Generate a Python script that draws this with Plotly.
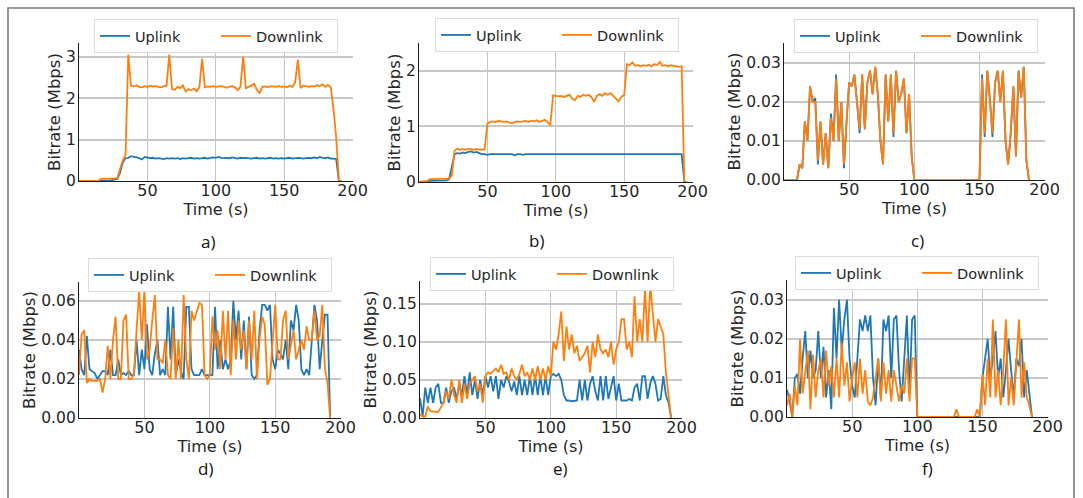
import plotly.graph_objects as go

# ---------------- data (time in s, bitrate in Mbps) ----------------
T_a = list(range(0, 193, 2))
up_a = [0,0,0,0,0,0,0,0,0.01,0.01,
        0.01,0.01,0.02,0.03,0.05,0.2,0.45,0.55,0.56,0.6,
        0.59,0.57,0.55,0.52,0.58,0.57,0.55,0.56,0.54,0.55,
        0.54,0.53,0.55,0.54,0.55,0.54,0.55,0.53,0.55,0.54,
        0.55,0.56,0.54,0.55,0.54,0.55,0.56,0.54,0.55,0.57,
        0.56,0.58,0.56,0.55,0.56,0.55,0.57,0.55,0.54,0.56,
        0.55,0.56,0.55,0.54,0.55,0.56,0.54,0.55,0.54,0.55,
        0.56,0.54,0.55,0.54,0.55,0.54,0.55,0.56,0.54,0.55,
        0.56,0.55,0.54,0.55,0.56,0.55,0.57,0.55,0.58,0.56,
        0.55,0.57,0.54,0.54,0.53,0,0]
down_a = [0,0,0,0,0,0,0,0,0.05,0.05,
          0.05,0.05,0.05,0.06,0.07,0.3,0.5,0.62,3.05,2.3,
          2.28,2.31,2.27,2.26,2.29,2.27,2.3,2.28,2.29,2.27,
          2.26,2.29,2.3,3.05,2.22,2.2,2.27,2.24,2.31,2.16,
          2.22,2.19,2.23,2.17,2.26,2.95,2.26,2.28,2.27,2.29,
          2.27,2.28,2.29,2.27,2.25,2.28,2.29,2.26,2.19,2.27,
          3.0,2.24,2.27,2.3,2.35,2.2,2.12,2.27,2.28,2.26,
          2.29,2.28,2.27,2.29,2.27,2.28,2.26,2.3,2.27,2.38,
          2.93,2.24,2.3,2.29,2.27,2.29,2.28,2.31,2.29,2.33,
          2.27,2.32,2.27,1.75,1.05,0,0]

T_b = list(range(0, 197, 2))
up_b = [0,0,0,0.01,0.02,0.02,0.02,0.02,0.02,0.02,
        0.03,0.05,0.3,0.5,0.52,0.51,0.53,0.52,0.54,0.55,
        0.53,0.54,0.52,0.5,0.5,0.49,0.5,0.5,0.49,0.5,
        0.5,0.5,0.49,0.5,0.5,0.48,0.5,0.5,0.49,0.5,
        0.5,0.5,0.49,0.5,0.5,0.5,0.49,0.5,0.5,0.5,
        0.5,0.49,0.5,0.5,0.5,0.49,0.5,0.5,0.5,0.49,
        0.5,0.5,0.5,0.49,0.5,0.5,0.5,0.49,0.5,0.5,
        0.5,0.49,0.5,0.5,0.5,0.49,0.5,0.5,0.49,0.5,
        0.5,0.5,0.49,0.5,0.5,0.5,0.49,0.5,0.5,0.5,
        0.49,0.5,0.5,0.5,0.49,0.5,0.5,0,0]
down_b = [0,0,0.01,0.02,0.05,0.05,0.05,0.05,0.05,0.05,
          0.05,0.06,0.12,0.56,0.6,0.58,0.59,0.58,0.6,0.59,
          0.58,0.59,0.58,0.58,0.59,1.05,1.08,1.09,1.08,1.1,
          1.09,1.08,1.09,1.07,1.05,1.08,1.09,1.08,1.09,1.1,
          1.08,1.1,1.09,1.11,1.08,1.1,1.12,1.08,1.02,1.56,
          1.55,1.54,1.55,1.53,1.55,1.57,1.5,1.47,1.55,1.53,
          1.57,1.55,1.57,1.53,1.44,1.55,1.58,1.55,1.6,1.57,
          1.6,1.55,1.5,1.45,1.54,1.56,2.12,2.1,2.15,2.09,
          2.1,2.08,2.1,2.09,2.11,2.08,2.12,2.1,2.16,2.09,
          2.1,2.08,2.1,2.09,2.08,2.07,2.08,0,0]

T_c = list(range(0, 189, 2))
up_c = [0,0,0,0,0,0,0.004,0.003,0.015,0.01,
        0.024,0.02,0.021,0.004,0.015,0.004,0.012,0.003,0.017,0.01,
        0.027,0.01,0.02,0.003,0.015,0.025,0.024,0.027,0.02,0.012,
        0.027,0.013,0.025,0.028,0.022,0.029,0.022,0.01,0.004,0.027,
        0.015,0.027,0.011,0.028,0.02,0.022,0.026,0.012,0.022,0.006,
        0,0,0,0,0,0,0,0,0,0,
        0,0,0,0,0,0,0,0,0,0,
        0,0,0,0,0,0,0.027,0.011,0.028,0.021,
        0.011,0.025,0.028,0.02,0.028,0.01,0.004,0.012,0.024,0.006,
        0.028,0.021,0.029,0.005,0]
down_c = [0,0,0,0,0,0,0.004,0.003,0.015,0.01,
          0.024,0.02,0.02,0.005,0.015,0.004,0.012,0.003,0.016,0.01,
          0.026,0.01,0.02,0.004,0.015,0.025,0.024,0.027,0.02,0.013,
          0.027,0.013,0.025,0.028,0.022,0.029,0.022,0.01,0.004,0.027,
          0.015,0.027,0.012,0.028,0.02,0.022,0.026,0.012,0.022,0.006,
          0,0,0,0,0,0,0,0,0,0,
          0,0,0,0,0,0,0,0,0,0,
          0,0,0,0,0,0,0.026,0.012,0.028,0.021,
          0.012,0.025,0.028,0.02,0.028,0.01,0.004,0.012,0.024,0.006,
          0.028,0.021,0.029,0.005,0]

T_d = list(range(0, 193, 2))
up_d = [0.035,0.025,0.022,0.042,0.025,0.024,0.023,0.02,0.022,0.024,
        0.024,0.022,0.035,0.022,0.022,0.03,0.022,0.023,0.022,0.024,
        0.022,0.022,0.04,0.022,0.035,0.025,0.048,0.025,0.022,0.033,
        0.04,0.022,0.025,0.022,0.057,0.03,0.057,0.022,0.03,0.024,
        0.02,0.057,0.057,0.025,0.022,0.022,0.022,0.025,0.022,0.022,
        0.022,0.022,0.057,0.025,0.04,0.025,0.03,0.025,0.03,0.06,
        0.04,0.055,0.03,0.05,0.025,0.052,0.022,0.02,0.022,0.045,
        0.058,0.058,0.055,0.058,0.03,0.025,0.035,0.033,0.03,0.04,
        0.025,0.05,0.045,0.058,0.05,0.025,0.022,0.025,0.022,0.04,
        0.058,0.05,0.025,0.04,0.053,0.053,0]
down_d = [0.022,0.043,0.045,0.018,0.02,0.019,0.019,0.019,0.02,0.013,
          0.02,0.037,0.02,0.04,0.052,0.02,0.02,0.05,0.053,0.02,
          0.02,0.022,0.045,0.065,0.04,0.066,0.03,0.035,0.05,0.063,
          0.03,0.03,0.028,0.04,0.022,0.02,0.046,0.02,0.04,0.02,
          0.063,0.03,0.02,0.055,0.05,0.055,0.059,0.058,0.022,0.02,
          0.022,0.052,0.035,0.045,0.025,0.055,0.03,0.055,0.022,0.05,
          0.03,0.05,0.035,0.045,0.025,0.05,0.03,0.055,0.02,0.04,
          0.052,0.048,0.017,0.02,0.04,0.058,0.03,0.03,0.05,0.055,
          0.03,0.038,0.045,0.03,0.035,0.04,0.035,0.047,0.04,0.04,
          0.055,0.04,0.042,0.058,0.025,0.018,0]

T_e = list(range(0, 193, 2))
up_e = [0.026,0.002,0.04,0.02,0.04,0.02,0.04,0.045,0.02,0.02,
        0.04,0.02,0.035,0.04,0.025,0.045,0.03,0.055,0.03,0.06,
        0.03,0.05,0.025,0.05,0.03,0.055,0.04,0.055,0.035,0.055,
        0.025,0.05,0.04,0.055,0.048,0.035,0.048,0.03,0.055,0.03,
        0.05,0.03,0.055,0.03,0.055,0.03,0.055,0.03,0.055,0.03,
        0.055,0.058,0.055,0.058,0.05,0.03,0.023,0.023,0.022,0.023,
        0.023,0.05,0.023,0.05,0.023,0.045,0.055,0.035,0.023,0.055,
        0.023,0.055,0.025,0.04,0.055,0.023,0.045,0.023,0.023,0.023,
        0.025,0.023,0.04,0.045,0.023,0.055,0.055,0.025,0.045,0.055,
        0.045,0.023,0.025,0.055,0.03,0.02,0]
down_e = [0.005,0.002,0.002,0.015,0.009,0.008,0.008,0.008,0.015,0.02,
          0.035,0.025,0.05,0.03,0.02,0.05,0.02,0.045,0.025,0.045,
          0.05,0.055,0.035,0.045,0.02,0.055,0.06,0.058,0.062,0.065,
          0.06,0.07,0.058,0.06,0.05,0.065,0.055,0.05,0.058,0.07,
          0.055,0.06,0.05,0.065,0.05,0.068,0.05,0.065,0.05,0.068,
          0.055,0.1,0.09,0.11,0.14,0.075,0.12,0.09,0.11,0.085,
          0.095,0.075,0.08,0.085,0.095,0.06,0.1,0.08,0.11,0.09,
          0.085,0.09,0.08,0.1,0.07,0.09,0.1,0.13,0.13,0.09,
          0.1,0.08,0.16,0.1,0.13,0.1,0.17,0.1,0.175,0.14,
          0.1,0.13,0.12,0.11,0.06,0.03,0]

T_f = list(range(0, 189, 2))
up_f = [0.007,0.004,0,0.01,0.011,0.006,0.015,0.022,0.01,0.017,
        0.01,0.012,0.022,0.01,0.018,0.005,0.012,0.002,0.028,0.015,
        0.03,0.017,0.025,0.03,0.015,0.008,0.005,0.015,0.025,0.022,
        0.026,0.022,0.026,0.01,0.003,0.015,0.005,0.025,0.022,0.026,
        0.01,0.025,0.026,0.012,0.004,0.015,0.026,0.006,0.025,0.026,
        0,0,0,0,0,0,0,0,0,0,
        0,0,0,0,0,0,0,0,0,0,
        0,0,0,0,0,0.01,0.015,0.02,0.01,0.015,
        0.022,0.01,0.015,0.005,0.012,0.02,0.012,0.005,0.015,0.013,
        0.02,0.005,0.012,0.006,0]
down_f = [0.003,0.006,0,0.008,0.003,0.02,0.006,0.012,0.017,0.002,
          0.016,0.005,0.012,0.015,0.005,0.017,0.008,0.013,0.005,0.015,
          0.005,0.019,0.008,0.014,0.004,0.01,0.014,0.005,0.015,0.006,
          0.012,0.004,0.003,0.005,0.01,0.015,0.004,0.014,0.006,0.012,
          0.004,0.012,0.008,0.004,0.008,0.006,0.015,0.004,0.015,0.015,
          0,0,0,0,0,0,0,0,0,0,
          0,0,0,0,0,0.002,0,0,0,0,
          0,0,0,0.002,0,0.011,0.003,0.015,0.005,0.025,
          0.005,0.012,0.003,0.012,0.025,0.003,0.01,0.003,0.015,0.025,
          0.005,0.014,0.005,0.003,0]

x_ticks = [50, 100, 150, 200]
x_ticktext = ["50", "100", "150", "200"]
y_ticks_a = [0, 1, 2, 3];            y_text_a = ["0", "1", "2", "3"]
y_ticks_b = [0, 1, 2];               y_text_b = ["0", "1", "2"]
y_ticks_c = [0, 0.01, 0.02, 0.03];   y_text_c = ["0.00", "0.01", "0.02", "0.03"]
y_ticks_d = [0, 0.02, 0.04, 0.06];   y_text_d = ["0.00", "0.02", "0.04", "0.06"]
y_ticks_e = [0, 0.05, 0.10, 0.15];   y_text_e = ["0.00", "0.05", "0.10", "0.15"]
y_ticks_f = [0, 0.01, 0.02, 0.03];   y_text_f = ["0.00", "0.01", "0.02", "0.03"]
panel_labels = ["a)", "b)", "c)", "d)", "e)", "f)"]
series_names = ["Uplink", "Downlink"]

# ---------------- layout geometry (pixels) ----------------
W, H = 1083, 498
BLUE, ORANGE = "#1f77b4", "#ff7f0e"
FONT = "DejaVu Sans"
TXT = "#262626"

panels = [
    dict(t=T_a, up=up_a, dn=down_a, box=(79, 353, 43, 181), yr=[0, 3.33], yt=y_ticks_a, ytt=y_text_a, lab=(208, 241)),
    dict(t=T_b, up=up_b, dn=down_b, box=(419, 693, 43, 182), yr=[0, 2.5], yt=y_ticks_b, ytt=y_text_b, lab=(536, 240)),
    dict(t=T_c, up=up_c, dn=down_c, box=(784, 1045, 43, 180), yr=[0, 0.0351], yt=y_ticks_c, ytt=y_text_c, lab=(917, 240)),
    dict(t=T_d, up=up_d, dn=down_d, box=(79, 341, 282, 418), yr=[0, 0.0697], yt=y_ticks_d, ytt=y_text_d, lab=(205, 468)),
    dict(t=T_e, up=up_e, dn=down_e, box=(420, 682, 281, 418), yr=[0, 0.18], yt=y_ticks_e, ytt=y_text_e, lab=(560, 468)),
    dict(t=T_f, up=up_f, dn=down_f, box=(787, 1048, 280, 417), yr=[0, 0.0351], yt=y_ticks_f, ytt=y_text_f, lab=(927, 468)),
]
legend_centers = [(216, 36), (557, 35), (916, 36), (210, 275), (552, 274), (917, 273)]

for p in panels:
    if not (len(p["t"]) == len(p["up"]) == len(p["dn"])):
        raise ValueError(f"length mismatch {len(p['t'])} {len(p['up'])} {len(p['dn'])}")

fig = go.Figure()
layout = dict(
    width=W, height=H, autosize=False,
    margin=dict(l=0, r=0, t=0, b=0),
    paper_bgcolor="white", plot_bgcolor="white",
    template="none",
    font=dict(family=FONT, color=TXT),
    annotations=[], shapes=[],
)

for i, p in enumerate(panels):
    n = i + 1
    xs = "" if n == 1 else str(n)
    lg = "legend" if n == 1 else f"legend{n}"
    x0, x1, y0, y1 = p["box"]
    for name, vals, col in ((series_names[0], p["up"], BLUE), (series_names[1], p["dn"], ORANGE)):
        fig.add_trace(go.Scatter(
            x=p["t"], y=vals, mode="lines", name=name,
            line=dict(color=col, width=1.8),
            xaxis="x" + xs, yaxis="y" + xs, legend=lg, hoverinfo="skip",
        ))
    layout["xaxis" + xs] = dict(
        domain=[x0 / W, x1 / W], anchor="y" + xs, range=[0, 200.3],
        tickmode="array", tickvals=x_ticks, ticktext=x_ticktext,
        showgrid=True, gridcolor="#c4c4c4", gridwidth=1,
        showline=True, linecolor="#1a1a1a", linewidth=1.3,
        zeroline=False, ticks="", ticklabelstandoff=-5,
        tickfont=dict(size=16, family=FONT, color=TXT),
        title=dict(text="Time (s)", font=dict(size=16, family=FONT, color=TXT), standoff=0),
        automargin=False,
    )
    layout["yaxis" + xs] = dict(
        domain=[1 - y1 / H, 1 - y0 / H], anchor="x" + xs, range=p["yr"],
        tickmode="array", tickvals=p["yt"], ticktext=p["ytt"],
        showgrid=True, gridcolor="#c8c8c8", gridwidth=1.5,
        showline=True, linecolor="#1a1a1a", linewidth=1.3,
        zeroline=False, ticks="", ticklabelstandoff=-1,
        tickfont=dict(size=15.5, family=FONT, color=TXT),
        title=dict(text="Bitrate (Mbps)", font=dict(size=16.5, family=FONT, color=TXT), standoff=1),
        automargin=False,
    )
    cx, cy = legend_centers[i]
    layout[lg] = dict(
        orientation="h", x=cx / W, xanchor="center", y=1 - cy / H, yanchor="middle",
        bgcolor="white", bordercolor="#dcdcdc", borderwidth=1,
        font=dict(size=14.5, family=FONT, color=TXT),
        entrywidth=76, itemwidth=30,
    )
    lx, ly = p["lab"]
    layout["annotations"].append(dict(
        text=panel_labels[i], x=lx / W, y=1 - ly / H, xref="paper", yref="paper",
        showarrow=False, xanchor="center", yanchor="middle",
        font=dict(size=17, family="Open Sans", color="#111111"),
    ))

layout["shapes"].append(dict(
    type="rect", xref="paper", yref="paper",
    x0=8 / W, x1=1074 / W, y0=-0.05, y1=1 - 8 / H,
    line=dict(color="#7a7a7a", width=1.6), fillcolor="rgba(0,0,0,0)", layer="below",
))

fig.update_layout(**layout)
fig.write_html("out.html", config={"displayModeBar": False},
               post_script="document.body.style.margin='0px';document.body.style.padding='0px';")
